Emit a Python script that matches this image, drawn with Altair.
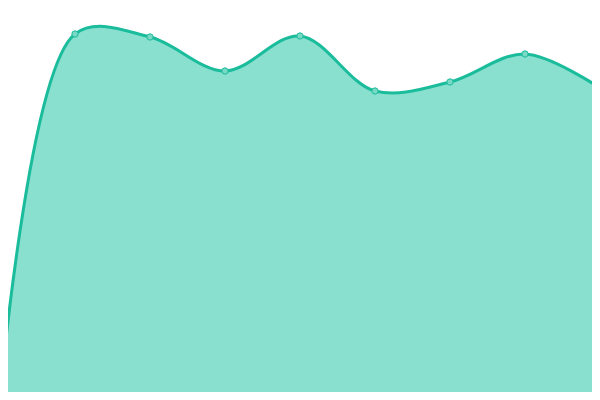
import altair as alt
import pandas as pd

# data (in arbitrary units: 0 = bottom of chart)
index = [0, 1, 2, 3, 4, 5, 6, 7, 8]
values = [1, 366, 363, 329, 364, 309, 318, 346, 312]

df = pd.DataFrame({"i": index, "v": values})

line_color = "#1abc9c"
fill_color = "#89e0cf"
point_fill = "#7ad9c5"

W, H = 584, 384
# page has an 8px margin: shift the domains so the marks line up with the window
x_scale = alt.Scale(domain=[8 / 75, 8 / 75 + W / 75], nice=False, zero=False)
y_scale = alt.Scale(domain=[8, 8 + H], nice=False, zero=False)

base = alt.Chart(df).encode(
    x=alt.X("i:Q", scale=x_scale, axis=None),
    y=alt.Y("v:Q", scale=y_scale, axis=None),
)

area = base.mark_area(
    interpolate="catmull-rom", color=fill_color, opacity=1
).encode(y2=alt.value(H))

line = base.mark_line(
    interpolate="catmull-rom", color=line_color, strokeWidth=3
)

points = base.mark_point(
    shape="circle", filled=True, size=40, fill=point_fill, stroke=line_color,
    strokeWidth=1, opacity=1
)

chart = (
    alt.layer(area, line, points)
    .properties(width=W, height=H, padding=0, autosize=alt.AutoSizeParams(type="none"))
    .configure_view(strokeWidth=0)
)

chart.save("out.html", embed_options={"renderer": "svg", "actions": False})
